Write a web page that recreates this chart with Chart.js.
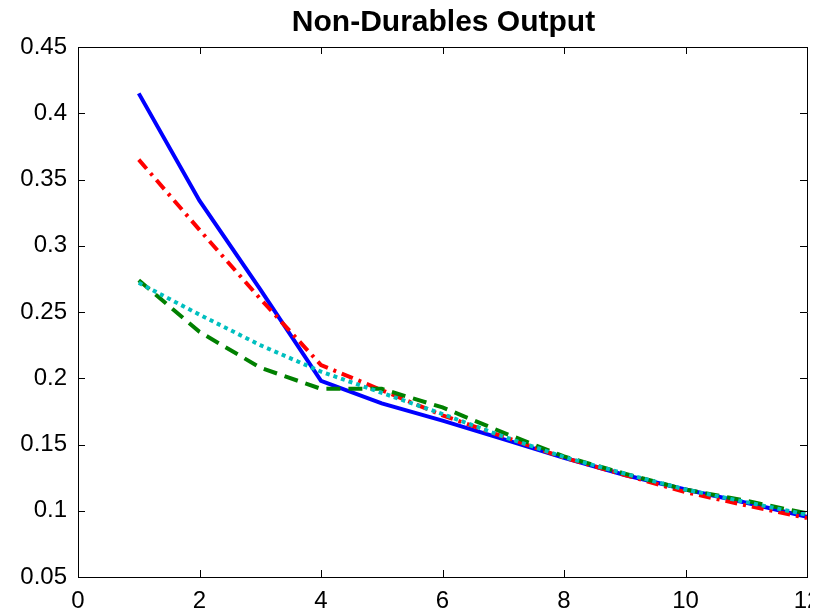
<!DOCTYPE html>
<html>
<head>
<meta charset="utf-8">
<script src="https://cdn.jsdelivr.net/npm/chart.js@4.4.1/dist/chart.umd.min.js"></script>
<style>
  html, body { margin: 0; padding: 0; background: #fff; overflow: hidden; }
  #wrap { width: 810px; height: 616px; overflow: hidden; }
  #wrap canvas { display: block; }
</style>
</head>
<body>
<div id="wrap"><canvas id="chart" width="887" height="616"></canvas></div>
<script>
// horizon / values
const steps = [1, 2, 3, 4, 5, 6, 7, 8, 9, 10, 11, 12];
const blueSolid = [0.415, 0.334, 0.267, 0.198, 0.181, 0.168, 0.154, 0.140, 0.127, 0.116, 0.106, 0.0955];
const redDashDot = [0.365, 0.312, 0.260, 0.210, 0.191, 0.172, 0.156, 0.140, 0.127, 0.114, 0.104, 0.0945];
const greenDashed = [0.274, 0.235, 0.208, 0.192, 0.192, 0.178, 0.159, 0.141, 0.128, 0.116, 0.1075, 0.098];
const cyanDotted = [0.272, 0.248, 0.225, 0.205, 0.189, 0.173, 0.156, 0.1405, 0.128, 0.116, 0.1065, 0.097];

const xTicks = [0, 2, 4, 6, 8, 10, 12];
const yTicks = [0.05, 0.1, 0.15, 0.2, 0.25, 0.3, 0.35, 0.4, 0.45];

const fontFamily = "Liberation Sans, Arial, sans-serif";

function toPoints(values) {
  return values.map((v, i) => ({ x: steps[i], y: v }));
}

// box round the plot and inward ticks on all four sides, like matlab
const boxTicks = {
  id: "boxTicks",
  afterDatasetsDraw(chart) {
    const { ctx, chartArea: a, scales } = chart;
    const len = 7;
    ctx.save();
    ctx.strokeStyle = "#000";
    ctx.lineWidth = 1;
    ctx.beginPath();
    ctx.rect(a.left + 0.5, a.top + 0.5, a.right - a.left, a.bottom - a.top);
    xTicks.forEach((t) => {
      const px = Math.round(scales.x.getPixelForValue(t)) + 0.5;
      ctx.moveTo(px, a.bottom);
      ctx.lineTo(px, a.bottom - len);
      ctx.moveTo(px, a.top);
      ctx.lineTo(px, a.top + len);
    });
    yTicks.forEach((t) => {
      const py = Math.round(scales.y.getPixelForValue(t)) + 0.5;
      ctx.moveTo(a.left, py);
      ctx.lineTo(a.left + len, py);
      ctx.moveTo(a.right, py);
      ctx.lineTo(a.right - len, py);
    });
    ctx.stroke();
    ctx.restore();
  },
};

const ctx = document.getElementById("chart").getContext("2d");
new Chart(ctx, {
  type: "line",
  data: {
    datasets: [
      { data: toPoints(blueSolid), borderColor: "#0000ff", order: 4 },
      { data: toPoints(redDashDot), borderColor: "#ff0000", borderDash: [12, 6, 3, 6], order: 3 },
      { data: toPoints(greenDashed), borderColor: "#008000", borderDash: [14, 8], order: 2 },
      { data: toPoints(cyanDotted), borderColor: "#00bfbf", borderDash: [4, 4], order: 1 },
    ],
  },
  options: {
    responsive: false,
    animation: false,
    layout: { padding: 0 },
    elements: {
      line: { borderWidth: 4, tension: 0, borderCapStyle: "butt", fill: false },
      point: { radius: 0 },
    },
    plugins: {
      legend: { display: false },
      tooltip: { enabled: false },
      title: {
        display: true,
        text: "Non-Durables Output",
        color: "#000",
        font: { family: fontFamily, size: 30, weight: "bold" },
        padding: { top: 5, bottom: 6 },
      },
    },
    scales: {
      x: {
        type: "linear",
        min: 0,
        max: 12,
        afterBuildTicks: (scale) => {
          scale.ticks = xTicks.map((v) => ({ value: v }));
        },
        afterFit: (scale) => {
          scale.height = 39;
        },
        grid: { display: false, drawTicks: false },
        border: { color: "#000", width: 1 },
        ticks: {
          color: "#000",
          padding: 10,
          maxRotation: 0,
          font: { family: fontFamily, size: 24 },
        },
      },
      y: {
        type: "linear",
        min: 0.05,
        max: 0.45,
        afterBuildTicks: (scale) => {
          scale.ticks = yTicks.map((v) => ({ value: v }));
        },
        afterFit: (scale) => {
          scale.width = 78;
        },
        grid: { display: false, drawTicks: false },
        border: { color: "#000", width: 1 },
        ticks: {
          color: "#000",
          padding: 11,
          font: { family: fontFamily, size: 24 },
          callback: (v) => String(Number(v.toFixed(2))),
        },
      },
      // empty spacer on the right so the title stays centred over the plot
      spacer: {
        type: "linear",
        position: "right",
        grid: { display: false, drawTicks: false },
        border: { display: false },
        ticks: { display: false },
        afterFit: (scale) => {
          scale.width = 80;
        },
      },
    },
  },
  plugins: [boxTicks],
});
</script>
</body>
</html>
